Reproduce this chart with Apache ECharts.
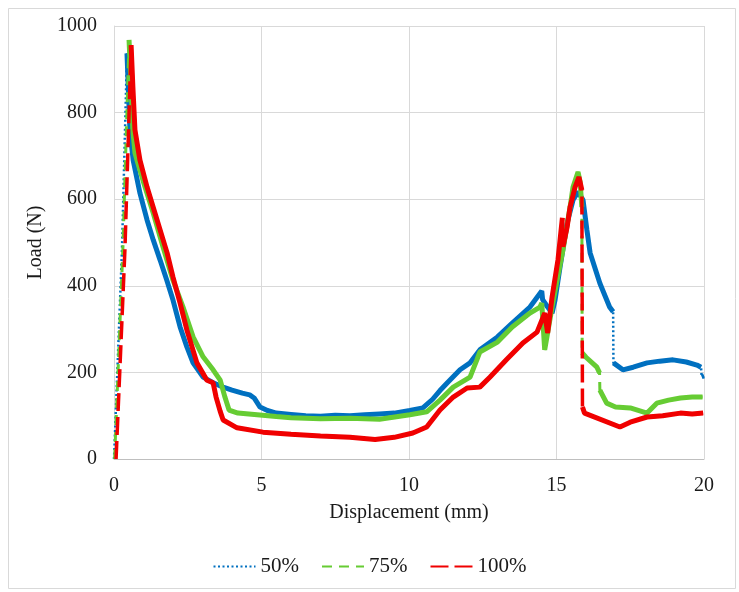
<!DOCTYPE html>
<html>
<head>
<meta charset="utf-8">
<script src="https://cdn.jsdelivr.net/npm/echarts@6/dist/echarts.min.js"></script>
<style>
html,body{margin:0;padding:0;background:#fff;}
#chart{width:739px;height:592px;}
</style>
</head>
<body>
<div id="chart"></div>
<script>
// ---- data ----
const seriesNames = ['50%', '75%', '100%'];
const xTicks = [0, 5, 10, 15, 20];
const yTicks = [0, 200, 400, 600, 800, 1000];

const x50 = [0, 0.27, 0.44, 0.54, 0.65, 0.88, 1.12, 1.33, 1.56, 1.79, 2.0, 2.24, 2.47, 2.68, 3.02, 3.36, 3.7, 4.0, 4.35, 4.6, 4.75, 4.95, 5.2, 5.5, 6.0, 6.5, 7.0, 7.5, 8.0, 8.5, 9.0, 9.5, 10.03, 10.47, 10.8, 11.05, 11.3, 11.73, 12.07, 12.4, 13.0, 13.5, 14.1, 14.5, 14.53, 14.7, 14.85, 14.95, 15.12, 15.36, 15.56, 15.73, 15.9, 16.03, 16.14, 16.47, 16.8, 16.92, 16.93, 17.25, 17.6, 18.07, 18.5, 18.95, 19.4, 19.76, 19.9, 19.92, 20.0];
const y50 = [0, 483, 937, 760, 690, 614, 552, 506, 460, 413, 367, 305, 259, 222, 189, 176, 166, 159, 152, 148, 141, 120, 112, 106, 103, 100, 99, 101, 100, 102, 104, 106, 112, 118, 138, 158, 176, 206, 222, 252, 282, 314, 351, 388, 368, 351, 337, 367, 443, 545, 598, 617, 598, 529, 476, 406, 351, 340, 222, 206, 212, 222, 226, 229, 224, 217, 212, 190, 192];

const x75 = [0.02, 0.3, 0.51, 0.64, 0.71, 0.81, 0.98, 1.33, 1.66, 2.0, 2.34, 2.68, 3.02, 3.36, 3.6, 3.76, 3.9, 4.2, 4.85, 5.5, 6.0, 7.0, 8.0, 9.0, 10.03, 10.6, 11.05, 11.5, 12.07, 12.3, 12.4, 13.0, 13.5, 14.1, 14.44, 14.5, 14.6, 14.85, 15.0, 15.22, 15.46, 15.56, 15.73, 15.8, 15.86, 15.87, 16.0, 16.37, 16.46, 16.47, 16.7, 17.0, 17.5, 18.07, 18.4, 18.8, 19.2, 19.6, 19.95];
const y75 = [0, 483, 968, 760, 707, 683, 644, 568, 490, 413, 351, 282, 236, 206, 182, 143, 113, 106, 102, 98, 95, 93, 94, 92, 102, 109, 136, 166, 189, 229, 247, 270, 305, 337, 351, 360, 252, 351, 406, 483, 582, 628, 663, 640, 582, 245, 235, 212, 199, 159, 129, 120, 118, 106, 129, 136, 141, 143, 143];

const x100 = [0.07, 0.37, 0.58, 0.64, 0.71, 0.88, 1.12, 1.46, 1.8, 1.85, 2.0, 2.24, 2.47, 2.81, 3.15, 3.36, 3.46, 3.6, 3.7, 4.17, 5.05, 6.0, 7.0, 8.0, 8.85, 9.5, 10.13, 10.6, 11.05, 11.5, 11.97, 12.4, 12.74, 13.3, 13.86, 14.34, 14.6, 14.7, 14.85, 15.05, 15.2, 15.22, 15.36, 15.46, 15.63, 15.76, 15.86, 15.88, 15.95, 17.15, 17.5, 18.07, 18.6, 19.2, 19.6, 19.97];
const y100 = [0, 483, 956, 859, 760, 690, 628, 552, 476, 480, 420, 360, 298, 222, 182, 176, 143, 110, 90, 72, 62, 57, 53, 50, 45, 50, 60, 74, 113, 143, 164, 166, 189, 229, 268, 293, 337, 291, 374, 460, 557, 490, 536, 582, 628, 651, 621, 120, 106, 74, 85, 97, 100, 106, 104, 106];

const colors = ['#0070C0', '#66CC33', '#F00000'];
const dashTypes = [[2, 2.5], [10, 7], [18, 6]];
const dashWidths = [2.5, 3, 3.5];

// ---- build series ----
function pairs(xs, ys) { return xs.map((x, i) => [x, ys[i]]); }
// solid overlay: breaks at the initial rise and at near-vertical jumps
function solidPart(xs, ys) {
  let p = 0;
  while (p < ys.length - 1 && ys[p + 1] >= ys[p]) p++;
  const out = [];
  for (let i = p; i < xs.length; i++) {
    out.push([xs[i], ys[i]]);
    if (i < xs.length - 1 && (xs[i + 1] - xs[i]) < 0.025) out.push([null, null]);
  }
  return out;
}
const xs = [x50, x75, x100], ys = [y50, y75, y100];
const series = [];
seriesNames.forEach((name, k) => {
  series.push({
    name: name, type: 'line', symbol: 'none', showSymbol: false,
    data: pairs(xs[k], ys[k]),
    lineStyle: { color: colors[k], width: dashWidths[k], type: dashTypes[k] },
    itemStyle: { color: colors[k] },
    silent: true
  });
  series.push({
    name: name + '_solid', type: 'line', symbol: 'none', showSymbol: false,
    data: solidPart(xs[k], ys[k]), connectNulls: false,
    lineStyle: { color: colors[k], width: 5, type: 'solid' },
    itemStyle: { color: colors[k] },
    silent: true
  });
});

const font = 'Liberation Serif';
const chart = echarts.init(document.getElementById('chart'), null, { renderer: 'canvas' });
chart.setOption({
  animation: false,
  backgroundColor: '#fff',
  graphic: [{
    type: 'rect', left: 6, top: 6, silent: true,
    shape: { width: 727, height: 580 },
    style: { fill: 'none', stroke: '#D9D9D9', lineWidth: 1 }
  }],
  grid: { left: 114, right: 35, top: 26, bottom: 133, containLabel: false },
  xAxis: {
    type: 'value', min: xTicks[0], max: xTicks[xTicks.length - 1], interval: 5,
    name: 'Displacement (mm)', nameLocation: 'middle', nameGap: 44,
    nameTextStyle: { fontFamily: font, fontSize: 20, color: '#1a1a1a' },
    axisLine: { show: true, lineStyle: { color: '#BFBFBF', width: 1 } },
    axisTick: { show: false },
    axisLabel: { fontFamily: font, fontSize: 20, color: '#1a1a1a', margin: 17 },
    splitLine: { show: true, lineStyle: { color: '#D9D9D9', width: 1 } }
  },
  yAxis: {
    type: 'value', min: yTicks[0], max: yTicks[yTicks.length - 1], interval: 200,
    name: 'Load (N)', nameLocation: 'middle', nameGap: 42, nameRotate: 90,
    nameTextStyle: { fontFamily: font, fontSize: 20, color: '#1a1a1a' },
    axisLine: { show: true, lineStyle: { color: '#D9D9D9', width: 1 } },
    axisTick: { show: false },
    axisLabel: { fontFamily: font, fontSize: 20, color: '#1a1a1a', margin: 17,
      formatter: function (v) { return String(v); } },
    splitLine: { show: true, lineStyle: { color: '#D9D9D9', width: 1 } }
  },
  legend: {
    data: seriesNames, top: 551, left: 'center',
    itemWidth: 42, itemHeight: 14, itemGap: 22,
    itemStyle: { opacity: 0 },
    textStyle: { fontFamily: font, fontSize: 21, color: '#1a1a1a' }
  },
  series: series
});
</script>
</body>
</html>
